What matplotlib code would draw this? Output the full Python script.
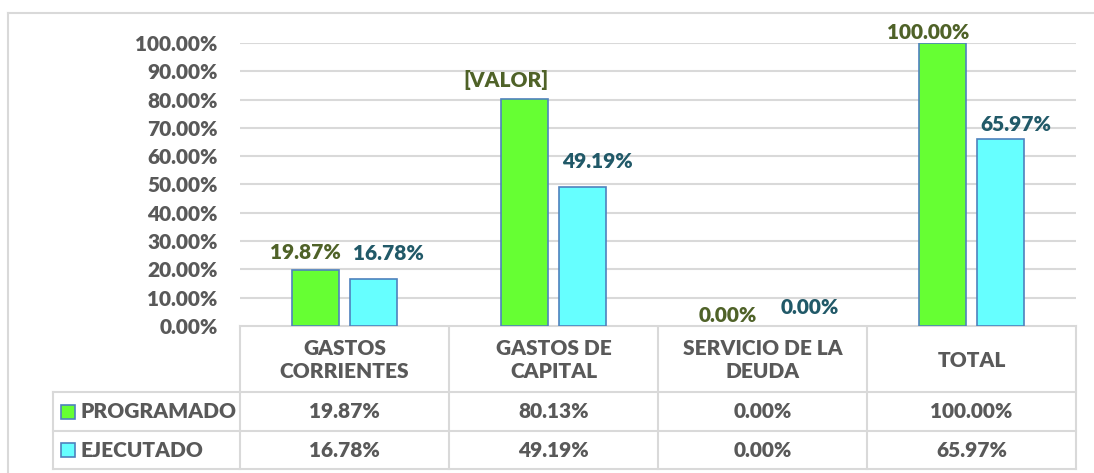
import matplotlib
matplotlib.use("Agg")
import matplotlib.pyplot as plt
from matplotlib.patches import Rectangle

# datos
categorias = ["GASTOS\nCORRIENTES", "GASTOS DE\nCAPITAL", "SERVICIO DE LA\nDEUDA", "TOTAL"]
programado = [19.87, 80.13, 0.00, 100.00]
ejecutado = [16.78, 49.19, 0.00, 65.97]
series = ["PROGRAMADO", "EJECUTADO"]
etiquetas_prog = ["19.87%", "[VALOR]", "0.00%", "100.00%"]
etiquetas_ejec = ["16.78%", "49.19%", "0.00%", "65.97%"]

W, H = 1094, 473
plt.rcParams['font.family'] = ['Lato', 'DejaVu Sans']

verde = '#66FF33'
cian = '#66FFFF'
borde = '#4F81BD'
gris = '#595959'
linea = '#D9D9D9'
col_prog = '#4F6228'
col_ejec = '#215968'
fs = 15
fw = 'heavy'

fig = plt.figure(figsize=(W / 100, H / 100), dpi=100)

# marco exterior y tabla en coordenadas de pixel
bg = fig.add_axes([0, 0, 1, 1])
bg.set_xlim(0, W)
bg.set_ylim(H, 0)
bg.axis('off')
bg.plot([8, W], [13, 13], color=linea, lw=1.5)
bg.plot([8, 8], [13, H], color=linea, lw=1.5)

x0, x1 = 240, 1076
y_top, y_zero = 43, 326
cw = (x1 - x0) / len(categorias)

ax = fig.add_axes([x0 / W, (H - y_zero) / H, (x1 - x0) / W, (y_zero - y_top) / H])
x = list(range(len(categorias)))
bw = 0.225
off = 0.141
ax.bar([i - off for i in x], programado, bw, color=verde, edgecolor=borde,
       lw=[1.2 if v > 0 else 0 for v in programado], zorder=3)
ax.bar([i + off for i in x], ejecutado, bw, color=cian, edgecolor=borde,
       lw=[1.2 if v > 0 else 0 for v in ejecutado], zorder=3)
ax.set_xlim(-0.5, len(categorias) - 0.5)
ax.set_ylim(0, 100)
ax.set_yticks(range(0, 101, 10))
ax.set_yticklabels([f"{v:.2f}%" for v in range(0, 101, 10)], fontsize=fs, color=gris, fontweight=fw)
ax.tick_params(axis='y', length=0, pad=16)
ax.set_xticks([])
ax.grid(axis='y', color=linea, lw=1.5, zorder=0)
for s in ['top', 'right', 'left', 'bottom']:
    ax.spines[s].set_visible(False)

# etiquetas de datos (desplazamientos en pixeles, colocadas a mano en el original)
dx_prog = [-10, -18, -5, -14]
dy_prog = [17, 19, 10, 10]
dx_ejec = [14, 14, 18, 15]
dy_ejec = [25, 25, 18, 15]
for i in x:
    ax.annotate(etiquetas_prog[i], (i - off, programado[i]), xytext=(dx_prog[i], dy_prog[i]),
                textcoords='offset pixels', ha='center', va='center', fontsize=fs,
                color=col_prog, fontweight=fw)
    ax.annotate(etiquetas_ejec[i], (i + off, ejecutado[i]), xytext=(dx_ejec[i], dy_ejec[i]),
                textcoords='offset pixels', ha='center', va='center', fontsize=fs,
                color=col_ejec, fontweight=fw)

# tabla de datos
r1, r2, r3 = 392, 431, 469
xl = 53
bg.plot([x0, x1], [y_zero, y_zero], color=linea, lw=1.5)
for yy in [r1, r2, r3]:
    bg.plot([xl, x1], [yy, yy], color=linea, lw=1.5)
for k in range(len(categorias) + 1):
    xx = x0 + k * cw
    bg.plot([xx, xx], [y_zero, r3], color=linea, lw=1.5)
bg.plot([xl, xl], [r1, r3], color=linea, lw=1.5)

for i, cat in enumerate(categorias):
    cx = x0 + (i + 0.5) * cw
    bg.text(cx, (y_zero + r1) / 2 + 1, cat, ha='center', va='center', fontsize=fs,
            color=gris, fontweight=fw, linespacing=1.3)
    bg.text(cx, (r1 + r2) / 2, f"{programado[i]:.2f}%", ha='center', va='center',
            fontsize=fs, color=gris, fontweight=fw)
    bg.text(cx, (r2 + r3) / 2, f"{ejecutado[i]:.2f}%", ha='center', va='center',
            fontsize=fs, color=gris, fontweight=fw)

for (ya, yb), nombre, c in zip([(r1, r2), (r2, r3)], series, [verde, cian]):
    ym = (ya + yb) / 2
    bg.add_patch(Rectangle((61, ym - 7), 14, 14, facecolor=c, edgecolor=borde, lw=1.2))
    bg.text(80, ym, nombre, ha='left', va='center', fontsize=fs, color=gris, fontweight=fw)

fig.savefig("out.png", dpi=100)
